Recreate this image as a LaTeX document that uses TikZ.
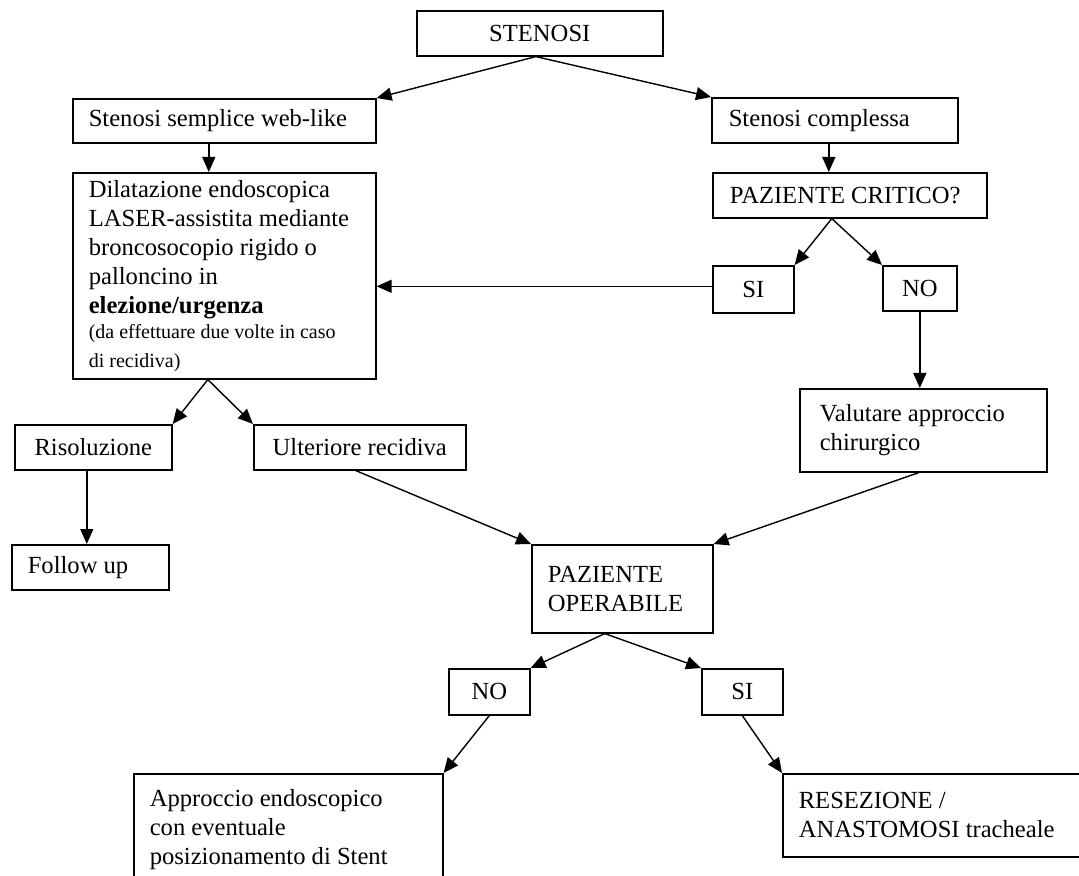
\documentclass[tikz,border=0pt]{standalone}
\usepackage{fontspec}
\setmainfont{Liberation Serif}
\usetikzlibrary{arrows.meta}
\tikzset{
  bx/.style={draw=black, line width=0.8pt, inner sep=0pt, anchor=north west, font=\fontsize{12.3}{14.5}\selectfont},
  lbx/.style={bx, align=flush left},
  cbx/.style={bx, align=center},
  arr/.style={draw=black, line width=0.7pt, -{Triangle[length=7.5pt,width=6.5pt]}}
}
\begin{document}
\begin{tikzpicture}[x=0.5pt,y=-0.5pt]
\clip (0,0) rectangle (1079,876);
\useasboundingbox (0,0) rectangle (1079,876);
% boxes (px coordinates, top-left)
\node[cbx, minimum width=123pt, minimum height=22.5pt] (sten) at (416,10) {STENOSI};
\node[lbx, minimum width=151.5pt, minimum height=22pt, text width=135.5pt] (semp) at (72,98) {Stenosi semplice web-like};
\node[lbx, minimum width=123pt, minimum height=22.5pt, text width=106pt] (comp) at (711,97) {Stenosi complessa};
\node[lbx, minimum width=137pt, minimum height=22.5pt, text width=120pt] (crit) at (712,172) {PAZIENTE CRITICO?};
\node[lbx, minimum width=151.5pt, minimum height=103pt, text width=135.5pt] (dil) at (72,172)
  {Dilatazione endoscopica\\ LASER-assistita mediante\\ broncosocopio rigido o\\ palloncino in\\ \textbf{elezione/urgenza}\\ \fontsize{10}{12.5}\selectfont (da effettuare due volte in caso\\ di recidiva)};
\node[cbx, minimum width=40.5pt, minimum height=23.5pt] (si1) at (712,265) {SI};
\node[cbx, minimum width=37pt, minimum height=22.5pt] (no1) at (882,265) {NO};
\node[lbx, minimum width=123.5pt, minimum height=41.5pt, text width=103.5pt] (val) at (799,388) {Valutare approccio\\ chirurgico};
\node[cbx, minimum width=78.5pt, minimum height=22.5pt] (ris) at (14,424) {Risoluzione};
\node[cbx, minimum width=106pt, minimum height=22.5pt] (ult) at (253,424) {Ulteriore recidiva};
\node[lbx, minimum width=78.5pt, minimum height=22.5pt, text width=62.5pt] (fol) at (11,544) {Follow up};
\node[lbx, minimum width=90.5pt, minimum height=44pt, text width=74.5pt] (op) at (531,544) {PAZIENTE\\ OPERABILE};
\node[cbx, minimum width=40.5pt, minimum height=23pt] (no2) at (448,668) {NO};
\node[cbx, minimum width=40.5pt, minimum height=23pt] (si2) at (701,668) {SI};
\node[lbx, minimum width=154.5pt, minimum height=56pt, text width=138.5pt] (app) at (133,773) {Approccio endoscopico\\ con eventuale\\ posizionamento di Stent};
\node[lbx, minimum width=160pt, minimum height=41.5pt, text width=144pt] (res) at (782,773) {RESEZIONE /\\ ANASTOMOSI tracheale};
% connectors
\draw[arr] ([xshift=-2pt]sten.south) -- (semp.north east);
\draw[arr] ([xshift=-2pt]sten.south) -- (comp.north west);
\draw[arr] ([xshift=-7.75pt]semp.south) -- ([xshift=-7.75pt]semp.south |- dil.north);
\draw[arr] ([xshift=-3pt]comp.south) -- ([xshift=-3pt]comp.south |- crit.north);
\draw[arr] ([xshift=-9pt]crit.south) -- (si1.north east);
\draw[arr] ([xshift=-9pt]crit.south) -- (no1.north west);
\draw[arr] ([yshift=1.5pt]si1.west) -- ([yshift=1.5pt]si1.west -| dil.east);
\draw[arr] (no1.south) -- (no1.south |- val.north);
\draw[arr] ([xshift=-8.25pt]dil.south) -- (ris.north east);
\draw[arr] ([xshift=-8.25pt]dil.south) -- (ult.north west);
\draw[arr] ([xshift=-3.25pt]ris.south) -- ([xshift=-3.25pt]ris.south |- fol.north);
\draw[arr] ([xshift=-2pt]ult.south) -- (op.north west);
\draw[arr] ([xshift=-2.25pt]val.south) -- (op.north east);
\draw[arr] ([xshift=-8.75pt]op.south) -- (no2.north east);
\draw[arr] ([xshift=-8.75pt]op.south) -- (si2.north west);
\draw[arr] (no2.south) -- (app.north east);
\draw[arr] (si2.south) -- (res.north west);
\end{tikzpicture}
\end{document}
